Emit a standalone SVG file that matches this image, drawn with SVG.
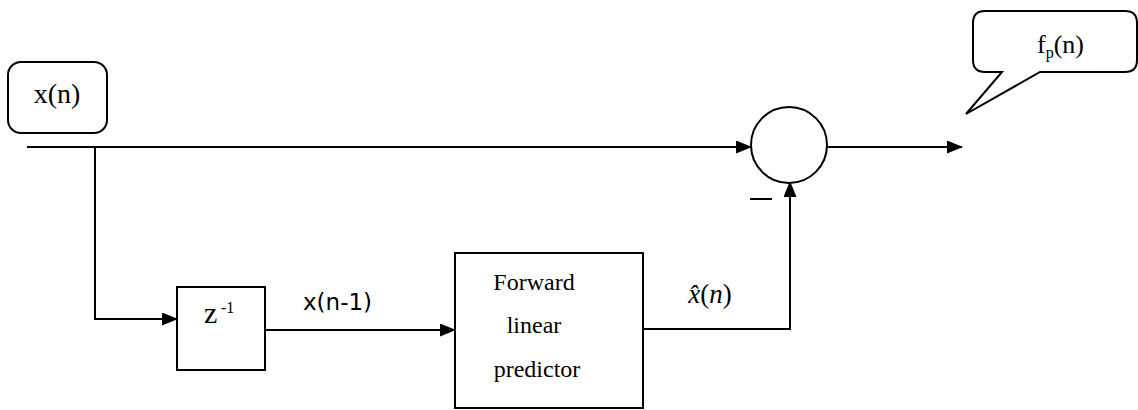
<svg xmlns="http://www.w3.org/2000/svg" width="1138" height="410" viewBox="0 0 1138 410">
<style>
.ln{fill:none;stroke:#000;stroke-width:2}
.bx{fill:#fff;stroke:#000;stroke-width:2}
.serif{font-family:"Liberation Serif","DejaVu Serif",serif;fill:#000}
.sans{font-family:"DejaVu Sans","Liberation Sans",sans-serif;fill:#000}
</style>
<defs>
<marker id="ah" markerWidth="16" markerHeight="13" refX="15" refY="6.5" orient="auto" markerUnits="userSpaceOnUse">
<path d="M0,0 L16,6.5 L0,13 Z" fill="#000"/>
</marker>
</defs>
<g id="connectors">
<path class="ln" d="M27,147 H751" marker-end="url(#ah)"/>
<path class="ln" d="M95,147 V319 H177" marker-end="url(#ah)"/>
<path class="ln" d="M265,330 H455" marker-end="url(#ah)"/>
<path class="ln" d="M643,329 H790 V182" marker-end="url(#ah)"/>
<path class="ln" d="M827,147 H962" marker-end="url(#ah)"/>
<text class="sans" x="303" y="310" font-size="23">x(n-1)</text>
<text class="serif" x="710" y="303" font-size="27" text-anchor="middle"><tspan font-style="italic">x̂</tspan>(<tspan font-style="italic">n</tspan>)</text>
<line class="ln" x1="750" y1="199" x2="772" y2="199"/>
</g>
<g id="input">
<rect class="bx" x="8" y="62" width="99" height="71" rx="13"/>
<text class="serif" x="57" y="103" font-size="28" text-anchor="middle">x(n)</text>
</g>
<g id="delay">
<rect class="bx" x="177" y="287" width="88" height="83"/>
<text class="serif" x="204" y="323" font-size="30">z</text>
<text class="serif" x="221" y="313" font-size="16">-1</text>
</g>
<g id="predictor">
<rect class="bx" x="455" y="253" width="188" height="155"/>
<text class="serif" font-size="24" text-anchor="middle">
<tspan x="537" y="290">Forward</tspan>
<tspan x="537" y="333">linear</tspan>
<tspan x="537" y="377">predictor</tspan>
</text>
</g>
<g id="sum">
<circle class="bx" cx="789" cy="145" r="38"/>
</g>
<g id="output-label">
<path class="bx" d="M985,11 H1125 Q1137,11 1137,23 V60 Q1137,72 1125,72 H1040 L966,114 L1002,72 H985 Q973,72 973,60 V23 Q973,11 985,11 Z"/>
<text class="serif" x="1037" y="53" font-size="26">f<tspan font-size="16" dy="5">p</tspan><tspan dy="-5">(n)</tspan></text>
</g>
</svg>
